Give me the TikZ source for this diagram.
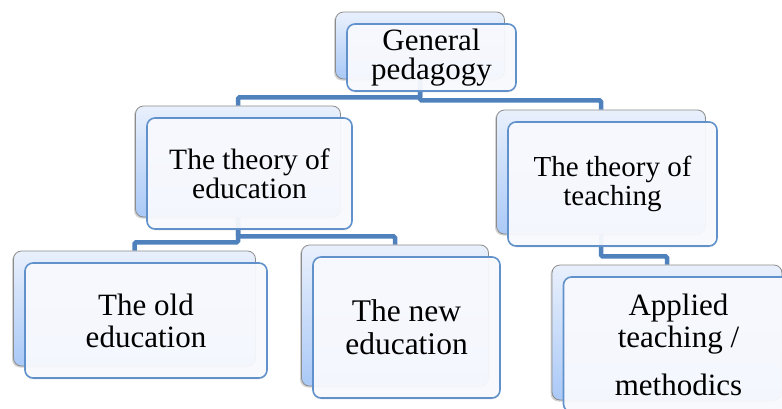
\documentclass[tikz,border=0pt]{standalone}
\usepackage{fontspec}
\setmainfont{Liberation Serif}
\usetikzlibrary{shadows,calc}
\pgfdeclarelayer{background}
\pgfsetlayers{background,main}
\definecolor{conn}{RGB}{79,129,189}
\definecolor{frontborder}{RGB}{96,145,202}
\definecolor{backborder}{RGB}{140,140,140}
\definecolor{backtop}{RGB}{233,240,252}
\definecolor{backbot}{RGB}{170,201,247}
\definecolor{frontfill}{RGB}{250,251,255}
\tikzset{
  backbox/.style={draw=backborder, line width=0.8pt, rounded corners=8pt,
    top color=backtop, bottom color=backbot, inner sep=0pt,
    drop shadow={shadow xshift=-1.5pt, shadow yshift=-1.5pt, opacity=0.35}},
  frontbox/.style={draw=frontborder, line width=1.6pt, rounded corners=8pt,
    fill=frontfill, fill opacity=0.93, text opacity=1, align=center, inner sep=0pt,
    drop shadow={shadow xshift=0pt, shadow yshift=-1.5pt, opacity=0.12}},
  connector/.style={draw=conn, line width=4.5pt, rounded corners=1.5pt},
}
\newcommand\mkbox[7]{%
  \node[backbox, minimum width=#4pt, minimum height=#5pt] (#1b) at (#2-11.5,#3-12) {};
  \node[frontbox, minimum width=#4pt, minimum height=#5pt, font=#6] (#1) at (#2,#3) {#7};
}
\begin{document}
\begin{tikzpicture}[x=1pt,y=-1pt]
\useasboundingbox (0,0) rectangle (782,408);
\clip (0,0) rectangle (782,408);
\mkbox{gp}{431.5}{57.5}{169}{67}{\fontsize{31}{29}\selectfont}{General\\pedagogy}
\mkbox{toe}{249.5}{173.5}{205}{111}{\fontsize{29.5}{29}\selectfont}{The theory of\\education}
\mkbox{tot}{612.5}{184}{209}{124}{\fontsize{29}{29}\selectfont}{The theory of\\teaching}
\mkbox{old}{146}{320.5}{242}{115}{\fontsize{31}{32}\selectfont}{The old\\education}
\mkbox{new}{406.5}{327.5}{187}{141}{\fontsize{31.5}{33}\selectfont}{The new\\education}
\mkbox{app}{678.5}{344.5}{230}{135}{\fontsize{31}{32}\selectfont}{Applied\\teaching /\\[16pt]methodics}
\begin{pgfonlayer}{background}
\draw[connector] (gpb.south) -- ++(0,18) -| (toeb.north);
\draw[connector] (gpb.south) -- ++(0,21) -| (totb.north);
\draw[connector] (toeb.south) -- ++(0,25) -| (oldb.north);
\draw[connector] (toeb.south) -- ++(0,19) -| (newb.north);
\draw[connector] (totb.south) -- ++(0,22) -| (appb.north);
\end{pgfonlayer}
\end{tikzpicture}
\end{document}
